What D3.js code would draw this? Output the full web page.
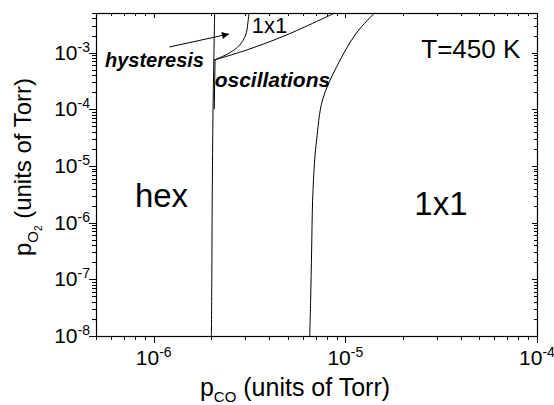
<!DOCTYPE html>
<html><head><meta charset="utf-8">
<script src="https://cdn.jsdelivr.net/npm/d3@7"></script>
<style>
html,body{margin:0;padding:0;background:#fff;}
svg{display:block;font-family:"Liberation Sans",Arial,Helvetica,sans-serif;}
</style></head><body>
<svg id="chart" width="554" height="405"></svg>
<script>
// ---- data ----
const xDomain = [5e-7, 1e-4];
const yDomain = [1e-8, 5e-3];
const xTickValues = [1e-6, 1e-5, 1e-4];
const xTickExponents = ["-6", "-5", "-4"];
const yTickValues = [1e-8, 1e-7, 1e-6, 1e-5, 1e-4, 1e-3];
const yTickExponents = ["-8", "-7", "-6", "-5", "-4", "-3"];

// phase boundaries [pCO, pO2]
const hexBoundary = [[2.0e-6,1e-8],[2.01e-6,1e-7],[2.02e-6,2.5e-6],[2.04e-6,1e-4],[2.06e-6,7.4e-4],[2.08e-6,5e-3]];
const hysteresisBranch = [[2.07e-6,1e-4],[2.09e-6,7.4e-4]];
const oscillationUpper = [[2.07e-6,7.4e-4],[3.05e-6,1.11e-3],[4.94e-6,2.05e-3],[8.8e-6,5e-3]];
const hysteresis1x1 = [[2.07e-6,7.4e-4],[2.49e-6,9.9e-4],[2.81e-6,1.36e-3],[3.02e-6,2.05e-3],[3.10e-6,3.33e-3],[3.14e-6,5e-3]];
const rightBoundary = [[6.52e-6,1e-8],[6.59e-6,4.3e-8],[6.67e-6,3.3e-7],[6.75e-6,2.5e-6],[6.92e-6,1.28e-5],[7.08e-6,2.88e-5],[7.6e-6,1.46e-4],[9.0e-6,5.6e-4],[1.14e-5,2.2e-3],[1.42e-5,5e-3]];
const arrowFrom = [1.21e-6, 1.26e-3];
const arrowTo = [2.47e-6, 2.13e-3];

// text labels
const labelTexts = ["hysteresis","oscillations","1x1","T=450 K","hex","1x1"];
const labelAnchors = [[5.57e-7,5.58e-4],[2.08e-6,2.48e-4],[3.25e-6,2.22e-3],[8.18e-5,8.0e-4],[7.98e-7,1.89e-6],[2.29e-5,1.37e-6]];

// ---- layout ----
const svg = d3.select("#chart");
const m = {left:96, top:13, right:17, bottom:69};
const W = 554 - m.left - m.right, H = 405 - m.top - m.bottom;
const x = d3.scaleLog().domain(xDomain).range([0, W]);
const y = d3.scaleLog().domain(yDomain).range([H, 0]);
const g = svg.append("g").attr("transform", `translate(${m.left},${m.top})`);

// minor tick values
function minors(domain){
  const out=[];
  for(let e=-9;e<=-2;e++) for(let k=1;k<=9;k++){
    const v=k*Math.pow(10,e);
    if(v>=domain[0]*0.9999 && v<=domain[1]*1.0001) out.push(v);
  }
  return out;
}
const xMin = minors(xDomain).filter(v=>!xTickValues.some(t=>Math.abs(t-v)/t<1e-6));
const yMin = minors(yDomain).filter(v=>!yTickValues.some(t=>Math.abs(t-v)/t<1e-6));

const MAJ=7, MIN=4;
function drawTicks(sel, vals, len, orient){
  sel.selectAll(null).data(vals).enter().append("line")
    .attr("stroke","#000").attr("stroke-width",1)
    .each(function(d){
      const s=d3.select(this);
      if(orient==="bottom"){const px=Math.round(x(d))+0.5; s.attr("x1",px).attr("x2",px).attr("y1",H).attr("y2",H+len);}
      if(orient==="top"){const px=Math.round(x(d))+0.5; s.attr("x1",px).attr("x2",px).attr("y1",0).attr("y2",len);}
      if(orient==="left"){const py=Math.round(y(d))+0.5; s.attr("y1",py).attr("y2",py).attr("x1",0).attr("x2",-len);}
      if(orient==="right"){const py=Math.round(y(d))+0.5; s.attr("y1",py).attr("y2",py).attr("x1",W).attr("x2",W-len);}
    });
}
const tk = g.append("g");
drawTicks(tk, xTickValues, MAJ, "bottom"); drawTicks(tk, xMin, MIN, "bottom");
drawTicks(tk, xTickValues, MAJ-2, "top"); drawTicks(tk, xMin, MIN-1, "top");
drawTicks(tk, yTickValues, MAJ, "left"); drawTicks(tk, yMin, MIN, "left");
drawTicks(tk, yTickValues, MAJ-2, "right"); drawTicks(tk, yMin, MIN-1, "right");

// frame
g.append("rect").attr("x",0.5).attr("y",0.5).attr("width",W).attr("height",H)
  .attr("fill","none").attr("stroke","#000").attr("stroke-width",1.2);

// tick labels
const FS=21, SFS=14;
g.selectAll(".xl").data(xTickValues).enter().append("text")
  .attr("x",d=>x(d)).attr("y",H+29).attr("text-anchor","middle").attr("font-size",FS)
  .each(function(d,i){
    const t=d3.select(this);
    t.append("tspan").text("10");
    t.append("tspan").attr("dy",-8).attr("font-size",SFS).text(xTickExponents[i]);
  });
g.selectAll(".yl").data(yTickValues).enter().append("text")
  .attr("x",-6).attr("y",d=>y(d)+7).attr("text-anchor","end").attr("font-size",FS)
  .each(function(d,i){
    const t=d3.select(this);
    t.append("tspan").text("10");
    t.append("tspan").attr("dy",-8).attr("font-size",SFS).text(yTickExponents[i]);
  });

// axis titles
const xt = svg.append("text").attr("x",295).attr("y",396).attr("text-anchor","middle").attr("font-size",25);
xt.append("tspan").text("p");
xt.append("tspan").attr("dy",6).attr("font-size",15).text("CO");
xt.append("tspan").attr("dy",-6).text(" (units of Torr)");
const yt = svg.append("text").attr("transform","translate(31,167) rotate(-90)").attr("text-anchor","middle").attr("font-size",24);
yt.append("tspan").text("p");
yt.append("tspan").attr("dy",7).attr("font-size",15).text("O");
yt.append("tspan").attr("dy",4).attr("font-size",10).text("2");
yt.append("tspan").attr("dy",-11).text(" (units of Torr)");

// curves
const line = d3.line().x(d=>x(d[0])).y(d=>y(d[1])).curve(d3.curveCatmullRom.alpha(0.5));
const curves = [hexBoundary, hysteresisBranch, oscillationUpper, hysteresis1x1, rightBoundary];
g.append("g").selectAll("path").data(curves).enter().append("path")
  .attr("d",line).attr("fill","none").attr("stroke","#000").attr("stroke-width",1);

// arrow
svg.append("defs").append("marker").attr("id","ah").attr("viewBox","0 0 10 10")
  .attr("refX",10).attr("refY",5).attr("markerWidth",9).attr("markerHeight",7)
  .attr("markerUnits","userSpaceOnUse").attr("orient","auto")
  .append("path").attr("d","M0,0 L10,5 L0,10 z").attr("fill","#000");
g.append("line").attr("x1",x(arrowFrom[0])).attr("y1",y(arrowFrom[1]))
  .attr("x2",x(arrowTo[0])).attr("y2",y(arrowTo[1]))
  .attr("stroke","#000").attr("stroke-width",1).attr("marker-end","url(#ah)");

// labels
const styles = [
  {fs:20,w:"bold",st:"italic",a:"start"},
  {fs:21,w:"bold",st:"italic",a:"start"},
  {fs:22,w:"normal",st:"normal",a:"start"},
  {fs:26,w:"normal",st:"normal",a:"end"},
  {fs:33,w:"normal",st:"normal",a:"start"},
  {fs:33,w:"normal",st:"normal",a:"start"}
];
g.selectAll(".lab").data(labelTexts).enter().append("text")
  .attr("x",(d,i)=>x(labelAnchors[i][0])).attr("y",(d,i)=>y(labelAnchors[i][1]))
  .attr("font-size",(d,i)=>styles[i].fs).attr("font-weight",(d,i)=>styles[i].w)
  .attr("font-style",(d,i)=>styles[i].st).attr("text-anchor",(d,i)=>styles[i].a)
  .text(d=>d);
</script></body></html>
